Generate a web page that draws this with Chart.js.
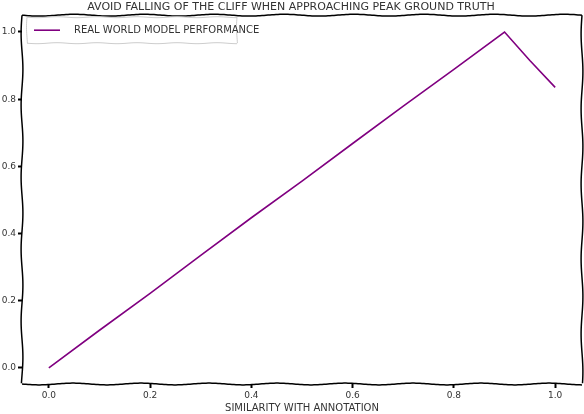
<!DOCTYPE html>
<html lang="en">
<head>
    <meta charset="UTF-8">
    <title>Avoid falling of the cliff</title>
    <script src="https://cdn.jsdelivr.net/npm/chart.js"></script>
    <style>
        html, body { margin: 0; padding: 0; background: #fff; }
        #wrap { width: 584px; height: 414px; }
    </style>
</head>
<body>
    <div id="wrap"><canvas id="cliffChart" width="584" height="414"></canvas></div>

    <script>
        // similarity (x) and performance (y)
        const similarity = [0.0, 0.1, 0.2, 0.3, 0.4, 0.5, 0.6, 0.7, 0.8, 0.9, 0.95, 1.0];
        const performance = [0.0, 0.112, 0.222, 0.335, 0.447, 0.556, 0.668, 0.779, 0.889, 1.0, 0.915, 0.835];
        const xTicks = [0.0, 0.2, 0.4, 0.6, 0.8, 1.0];
        const yTicks = [0.0, 0.2, 0.4, 0.6, 0.8, 1.0];
        const seriesLabel = 'REAL WORLD MODEL PERFORMANCE';

        const FONT = '"DejaVu Sans", sans-serif';

        // wobbly line, xkcd style
        function wiggle(ctx, x1, y1, x2, y2, amp, period) {
            const len = Math.hypot(x2 - x1, y2 - y1);
            const nx = -(y2 - y1) / len, ny = (x2 - x1) / len;
            ctx.beginPath();
            for (let d = 0; d <= len; d += 2) {
                const t = d / len;
                const off = amp * Math.sin(d / period * Math.PI * 2);
                const px = x1 + (x2 - x1) * t + nx * off;
                const py = y1 + (y2 - y1) * t + ny * off;
                if (d === 0) ctx.moveTo(px, py); else ctx.lineTo(px, py);
            }
            ctx.stroke();
        }

        const xkcdFrame = {
            id: 'xkcdFrame',
            afterDatasetsDraw(chart) {
                const ctx = chart.ctx;
                const a = chart.chartArea;
                ctx.save();
                ctx.strokeStyle = '#000';
                ctx.lineWidth = 1.5;
                wiggle(ctx, a.left, a.top, a.right, a.top, 0.9, 70);
                wiggle(ctx, a.right, a.top, a.right, a.bottom, 0.9, 75);
                wiggle(ctx, a.left, a.bottom, a.right, a.bottom, 0.9, 68);
                wiggle(ctx, a.left, a.top, a.left, a.bottom, 0.9, 72);

                // legend box inside top-left
                const ds = chart.data.datasets[0];
                const bx = a.left + 5, by = a.top + 2, bw = 210, bh = 26;
                ctx.fillStyle = 'rgba(255,255,255,0.8)';
                ctx.fillRect(bx, by, bw, bh);
                ctx.strokeStyle = '#cccccc';
                ctx.lineWidth = 1;
                wiggle(ctx, bx, by, bx + bw, by, 0.5, 40);
                wiggle(ctx, bx + bw, by, bx + bw, by + bh, 0.5, 40);
                wiggle(ctx, bx, by + bh, bx + bw, by + bh, 0.5, 40);
                wiggle(ctx, bx, by, bx, by + bh, 0.5, 40);
                ctx.strokeStyle = ds.borderColor;
                ctx.lineWidth = 1.6;
                ctx.beginPath();
                ctx.moveTo(bx + 7, by + 13);
                ctx.lineTo(bx + 33, by + 13);
                ctx.stroke();
                ctx.fillStyle = '#333';
                ctx.font = '10px ' + FONT;
                ctx.textBaseline = 'middle';
                ctx.fillText(ds.label, bx + 47, by + 13);
                ctx.restore();
            }
        };

        const ctx = document.getElementById('cliffChart').getContext('2d');
        new Chart(ctx, {
            type: 'line',
            data: {
                datasets: [{
                    label: seriesLabel,
                    data: similarity.map((x, i) => ({ x: x, y: performance[i] })),
                    borderColor: '#800080',
                    borderWidth: 1.6,
                    pointRadius: 0,
                    fill: false,
                    tension: 0
                }]
            },
            options: {
                responsive: false,
                animation: false,
                layout: { padding: { left: 0, right: 2, top: 0, bottom: 0 } },
                plugins: {
                    legend: { display: false },
                    tooltip: { enabled: false },
                    title: {
                        display: true,
                        text: 'AVOID FALLING OF THE CLIFF WHEN APPROACHING PEAK GROUND TRUTH',
                        color: '#333',
                        font: { family: FONT, size: 11, weight: 'normal' },
                        padding: { top: 1, bottom: 1 }
                    }
                },
                scales: {
                    x: {
                        type: 'linear',
                        min: -0.053,
                        max: 1.053,
                        afterBuildTicks: s => { s.ticks = xTicks.map(v => ({ value: v })); },
                        afterFit: s => { s.height = 30; },
                        border: { display: false },
                        grid: { drawOnChartArea: false, tickLength: 4, tickWidth: 2, tickColor: '#000' },
                        ticks: {
                            color: '#333',
                            padding: 2,
                            font: { family: FONT, size: 9 },
                            callback: v => v.toFixed(1)
                        },
                        title: {
                            display: true,
                            text: 'SIMILARITY WITH ANNOTATION',
                            color: '#333',
                            font: { family: FONT, size: 10 },
                            padding: { top: 0, bottom: 0 }
                        }
                    },
                    y: {
                        min: -0.048,
                        max: 1.05,
                        afterBuildTicks: s => { s.ticks = yTicks.map(v => ({ value: v })); },
                        afterFit: s => { s.width = 22; },
                        border: { display: false },
                        grid: { drawOnChartArea: false, tickLength: 4, tickWidth: 2, tickColor: '#000' },
                        ticks: {
                            color: '#333',
                            padding: 2,
                            font: { family: FONT, size: 9 },
                            callback: v => v.toFixed(1)
                        }
                    }
                }
            },
            plugins: [xkcdFrame]
        });
    </script>
</body>
</html>
